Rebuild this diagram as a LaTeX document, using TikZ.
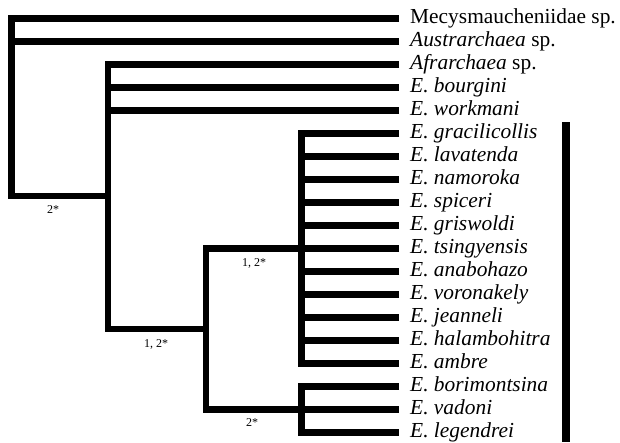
\documentclass[tikz,border=0pt]{standalone}
\usepackage{fontspec}
\setmainfont{Liberation Serif}
\begin{document}
\begin{tikzpicture}[x=1pt,y=-1pt,
  tree/.style={line width=6.4pt},
  taxon/.style={anchor=base west, inner sep=0pt, font=\fontsize{21.4}{24}\selectfont},
  support/.style={font=\fontsize{12}{14}\selectfont, inner sep=0pt},
  cladebar/.style={line width=7.8pt}]
\useasboundingbox (0,0) rectangle (620,442);
\foreach \i/\t in {0/{Mecysmaucheniidae sp.},1/{\textit{Austrarchaea} sp.},2/{\textit{Afrarchaea} sp.},
  3/{\textit{E. bourgini}},4/{\textit{E. workmani}},5/{\textit{E. gracilicollis}},6/{\textit{E. lavatenda}},
  7/{\textit{E. namoroka}},8/{\textit{E. spiceri}},9/{\textit{E. griswoldi}},10/{\textit{E. tsingyensis}},
  11/{\textit{E. anabohazo}},12/{\textit{E. voronakely}},13/{\textit{E. jeanneli}},14/{\textit{E. halambohitra}},
  15/{\textit{E. ambre}},16/{\textit{E. borimontsina}},17/{\textit{E. vadoni}},18/{\textit{E. legendrei}}}{
  \coordinate (t\i) at (399,18.5+23*\i);
  \node[taxon] (n\i) at ([xshift=11pt,yshift=-5pt]t\i) {\t};
}
\coordinate (R) at (11.5,196);
\coordinate (A) at (108,196);
\coordinate (Ab) at (108,329);
\coordinate (B) at (206,329);
\coordinate (C) at (301.5,248.5);
\coordinate (D) at (301.5,409.5);
\draw[tree] (t0) -| (R) -- (A);
\draw[tree] (t1) -- (t1 -| R);
\draw[tree] (t2) -| (Ab) -- (B);
\draw[tree] (t3) -- (t3 -| A);
\draw[tree] (t4) -- (t4 -| A);
\draw[tree] (t5) -| (C |- t15) -- (t15);
\foreach \i in {6,7,8,9,11,12,13,14} \draw[tree] (t\i) -- (t\i -| C);
\draw[tree] (t10) -| (B |- t17) -- (t17);
\draw[tree] (t16) -| (D |- t18) -- (t18);
\node[support] (s1) at (53,210) {2*};
\node[support] (s2) at (156,344) {1, 2*};
\node[support] (s3) at (254,263) {1, 2*};
\node[support] (s4) at (252,423) {2*};
\coordinate (bt) at (566,122);
\coordinate (bb) at (566,442);
\draw[cladebar] (bt) -- (bb);
\end{tikzpicture}
\end{document}
